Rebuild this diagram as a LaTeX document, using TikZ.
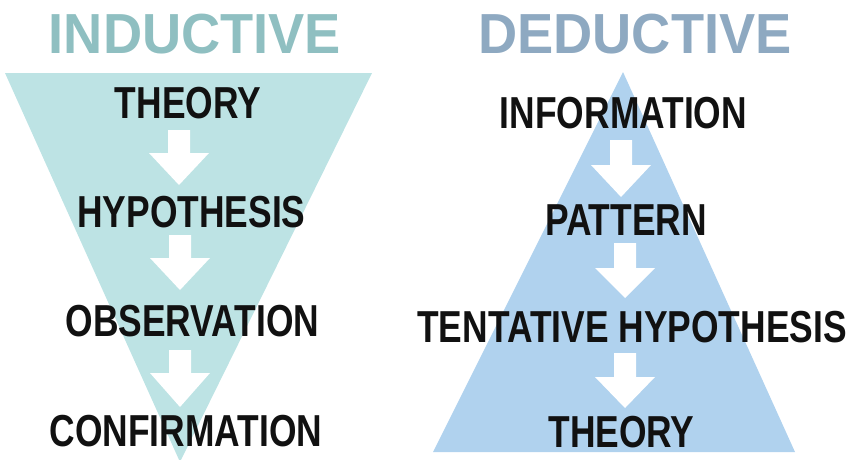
\documentclass[tikz,border=0pt]{standalone}
\usepackage{fontspec}
\newfontfamily\lblfont[FakeStretch=0.79]{Liberation Sans}
\newfontfamily\ttlfont[FakeStretch=0.96]{Liberation Sans}
\definecolor{indfill}{HTML}{BDE3E4}
\definecolor{indtitle}{HTML}{8FBFC1}
\definecolor{dedfill}{HTML}{B0D2EE}
\definecolor{dedtitle}{HTML}{8EA9C1}
\definecolor{txt}{HTML}{111111}
\tikzset{
  lbl/.style={anchor=base, inner sep=0pt, text=txt, font=\lblfont\bfseries\fontsize{44.8}{50}\selectfont},
  ttl/.style={anchor=base, inner sep=0pt, font=\ttlfont\bfseries\fontsize{56.5}{60}\selectfont},
  arrowfill/.style={fill=white}
}
\newcommand\blockarrow[3]{%
  \fill[arrowfill] ([xshift=-11pt]#1) -- ++(22,0) -- ++(0,#2) -- ++(19,0) -- ++(-30,#3) -- ++(-30,-#3) -- ++(19,0) -- cycle;}
\begin{document}
\begin{tikzpicture}[x=1pt,y=-1pt]
\useasboundingbox (0,0) rectangle (850,459);
% triangles
\fill[indfill] (5,73) -- (372,73) -- (180,462) -- cycle;
\fill[dedfill] (623,72) -- (795,452) -- (433,452) -- cycle;
% titles
\node[ttl, text=indtitle] (indt) at (195,53) {INDUCTIVE};
\node[ttl, text=dedtitle] (dedt) at (635,53) {DEDUCTIVE};
% inductive steps
\node[lbl] (i1) at (188,118) {THEORY};
\node[lbl] (i2) at (191.5,227) {HYPOTHESIS};
\node[lbl] (i3) at (192.5,336) {OBSERVATION};
\node[lbl] (i4) at (186,446) {CONFIRMATION};
% deductive steps
\node[lbl] (d1) at (623.5,128) {INFORMATION};
\node[lbl] (d2) at (626,235) {PATTERN};
\node[lbl] (d3) at (632,342) {TENTATIVE HYPOTHESIS};
\node[lbl] (d4) at (621.5,447) {THEORY};
% arrow anchors (top centre of each block arrow)
\coordinate (ia1) at (179,130);
\coordinate (ia2) at (180,235);
\coordinate (ia3) at (180,350);
\coordinate (da1) at (621,140);
\coordinate (da2) at (625,243);
\coordinate (da3) at (625,353);
\blockarrow{ia1}{23}{32}
\blockarrow{ia2}{23}{32}
\blockarrow{ia3}{23}{34}
\blockarrow{da1}{25}{32}
\blockarrow{da2}{25}{30}
\blockarrow{da3}{24}{31}
\end{tikzpicture}
\end{document}
